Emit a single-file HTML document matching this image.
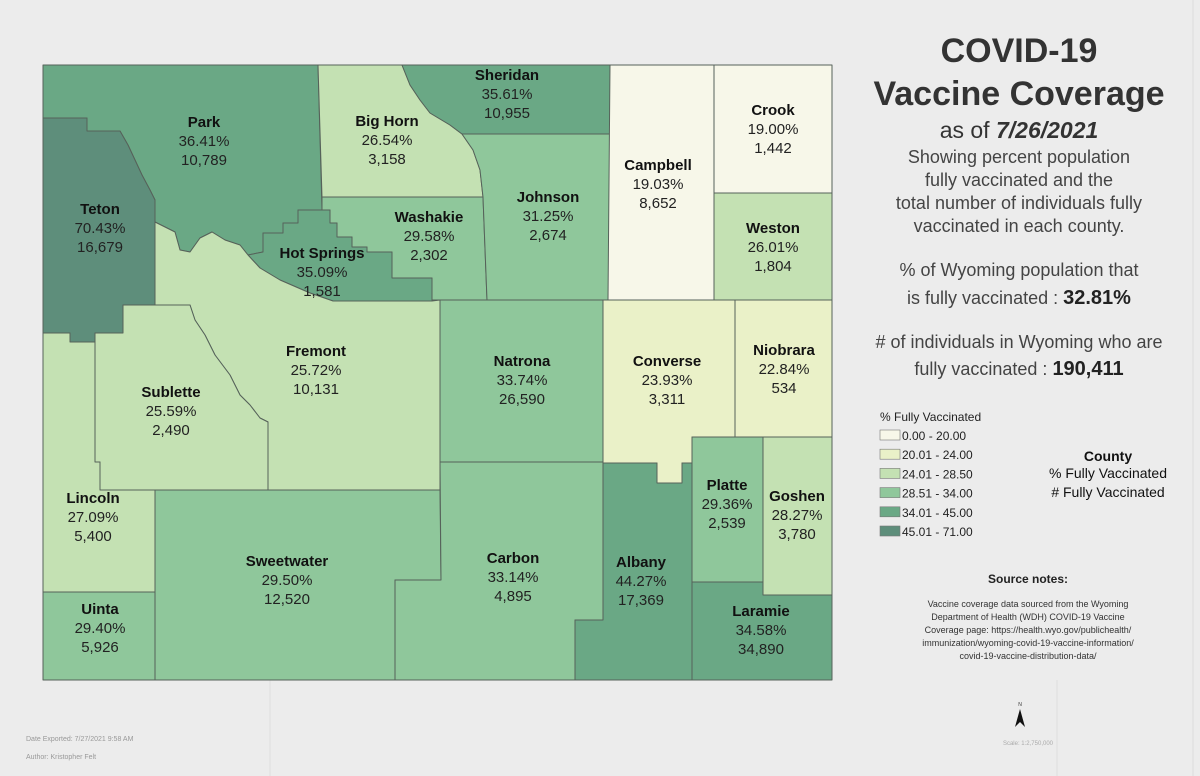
<!DOCTYPE html>
<html><head><meta charset="utf-8"><style>
html,body{margin:0;padding:0;background:#ececec;}
svg{display:block;font-family:"Liberation Sans",sans-serif;}
.nm{font-weight:bold;font-size:15px;fill:#111;}
.vl{font-size:15px;fill:#222;}
</style></head><body>
<svg id="map" width="1200" height="776" viewBox="0 0 1200 776">
<rect x="0" y="0" width="1200" height="776" fill="#ececec"/>
<line x1="1193" y1="0" x2="1193" y2="776" stroke="#dcdcdc"/>
<line x1="270" y1="680" x2="270" y2="776" stroke="#dedede"/>
<line x1="1057" y1="680" x2="1057" y2="776" stroke="#dedede"/>
<g id="counties"></g>
<g id="labels"></g>
<g text-anchor="middle" fill="#333">
<text x="1019" y="62" font-size="34" font-weight="bold">COVID-19</text>
<text x="1019" y="105" font-size="34" font-weight="bold">Vaccine Coverage</text>
<text x="1019" y="138" font-size="23">as of <tspan font-weight="bold" font-style="italic">7/26/2021</tspan></text>
<g font-size="18" fill="#444">
<text x="1019" y="163">Showing percent population</text>
<text x="1019" y="186">fully vaccinated and the</text>
<text x="1019" y="209">total number of individuals fully</text>
<text x="1019" y="232">vaccinated in each county.</text>
<text x="1019" y="276">% of Wyoming population that</text>
<text x="1019" y="304">is fully vaccinated : <tspan font-weight="bold" font-size="20" fill="#222">32.81%</tspan></text>
<text x="1019" y="348"># of individuals in Wyoming who are</text>
<text x="1019" y="375">fully vaccinated : <tspan font-weight="bold" font-size="20" fill="#222">190,411</tspan></text>
</g>
</g>
<g id="legend">
<text x="880" y="421" font-size="12" fill="#222">% Fully Vaccinated</text>
</g>
<g text-anchor="middle" fill="#111">
<text x="1108" y="461" font-size="14" font-weight="bold">County</text>
<text x="1108" y="478" font-size="14">% Fully Vaccinated</text>
<text x="1108" y="497" font-size="14"># Fully Vaccinated</text>
</g>
<g text-anchor="middle" fill="#333">
<text x="1028" y="583" font-size="12" font-weight="bold" fill="#222">Source notes:</text>
<text x="1028" y="607" font-size="9">Vaccine coverage data sourced from the Wyoming</text>
<text x="1028" y="620" font-size="9">Department of Health (WDH) COVID-19 Vaccine</text>
<text x="1028" y="633" font-size="9">Coverage page: https://health.wyo.gov/publichealth/</text>
<text x="1028" y="646" font-size="9">immunization/wyoming-covid-19-vaccine-information/</text>
<text x="1028" y="659" font-size="9">covid-19-vaccine-distribution-data/</text>
</g>
<text x="26" y="741" font-size="7" fill="#999">Date Exported: 7/27/2021 9:58 AM</text>
<text x="26" y="759" font-size="7" fill="#999">Author: Kristopher Felt</text>
<text x="1053" y="745" font-size="6" fill="#aaa" text-anchor="end">Scale: 1:2,750,000</text>
<g>
<text x="1020" y="706" font-size="5" text-anchor="middle" fill="#333">N</text>
<polygon points="1020,709 1025,727 1020,722 1015,727" fill="#111"/>
</g>
</svg>
<script>
const countyNames=["Park","Teton","Big Horn","Sheridan","Washakie","Hot Springs","Johnson","Campbell","Crook","Weston","Fremont","Sublette","Lincoln","Uinta","Sweetwater","Natrona","Converse","Niobrara","Carbon","Albany","Platte","Goshen","Laramie"];
const pctValues=[36.41,70.43,26.54,35.61,29.58,35.09,31.25,19.03,19.00,26.01,25.72,25.59,27.09,29.40,29.50,33.74,23.93,22.84,33.14,44.27,29.36,28.27,34.58];
const countValues=[10789,16679,3158,10955,2302,1581,2674,8652,1442,1804,10131,2490,5400,5926,12520,26590,3311,534,4895,17369,2539,3780,34890];
const legendLabels=["0.00 - 20.00","20.01 - 24.00","24.01 - 28.50","28.51 - 34.00","34.01 - 45.00","45.01 - 71.00"];
const classBreaks=[20,24,28.5,34,45,71];
const classColors=["#f7f7e9","#eaf1c8","#c4e1b3","#8fc79b","#6aa885","#5e8e7b"];
const shapes={
"Park":"43,65 318,65 322,210 298,210 298,223 283,223 283,233 263,233 263,252 248,255 240,245 225,240 212,232 200,238 190,252 180,250 175,232 155,222 155,200 150,190 142,175 135,160 128,145 120,131 87,131 87,118 43,118",
"Teton":"43,118 87,118 87,131 120,131 128,145 135,160 142,175 150,190 155,200 155,305 123,305 123,333 95,333 95,342 70,342 70,333 43,333",
"Big Horn":"318,65 402,65 410,85 420,100 430,113 450,125 462,134 473,150 480,170 483,197 322,197",
"Sheridan":"402,65 610,65 610,134 462,134 450,125 430,113 420,100 410,85",
"Washakie":"322,197 483,197 487,300 432,300 432,278 392,278 392,252 367,252 367,247 352,247 352,237 337,237 337,223 330,223 330,210 322,210",
"Hot Springs":"248,255 263,252 263,233 283,233 283,223 298,223 298,210 330,210 330,223 337,223 337,237 352,237 352,247 367,247 367,252 392,252 392,278 432,278 432,301 333,301 310,293 280,280 260,268",
"Johnson":"462,134 610,134 610,300 487,300 483,197 480,170 473,150",
"Campbell":"610,65 714,65 714,300 608,300",
"Crook":"714,65 832,65 832,193 714,193",
"Weston":"714,193 832,193 832,300 714,300",
"Fremont":"155,222 175,232 180,250 190,252 200,238 212,232 225,240 240,245 248,255 260,268 280,280 310,293 333,301 432,301 440,300 440,490 268,490 268,422 260,418 250,405 240,395 230,375 215,355 205,335 195,320 190,305 155,305",
"Sublette":"155,305 190,305 195,320 205,335 215,355 230,375 240,395 250,405 260,418 268,422 268,490 100,490 100,462 95,462 95,342 95,333 123,333 123,305",
"Lincoln":"43,333 70,333 70,342 95,342 95,462 100,462 100,490 155,490 155,592 43,592",
"Uinta":"43,592 155,592 155,680 43,680",
"Sweetwater":"155,490 440,490 441,580 395,580 395,680 155,680",
"Natrona":"440,300 603,300 603,462 440,462",
"Converse":"603,300 735,300 735,437 692,437 692,463 682,463 682,483 657,483 657,463 603,463",
"Niobrara":"735,300 832,300 832,437 735,437",
"Carbon":"440,462 603,462 603,620 575,620 575,680 395,680 395,580 441,580",
"Albany":"603,463 657,463 657,483 682,483 682,463 692,463 692,680 575,680 575,620 603,620",
"Platte":"692,437 763,437 763,582 692,582",
"Goshen":"763,437 832,437 832,595 763,595",
"Laramie":"692,582 763,582 763,595 832,595 832,680 692,680"};
const anchors={"Park":[204,127],"Teton":[100,214],"Big Horn":[387,126],"Sheridan":[507,80],"Washakie":[429,222],"Hot Springs":[322,258],"Johnson":[548,202],"Campbell":[658,170],"Crook":[773,115],"Weston":[773,233],"Fremont":[316,356],"Sublette":[171,397],"Lincoln":[93,503],"Uinta":[100,614],"Sweetwater":[287,566],"Natrona":[522,366],"Converse":[667,366],"Niobrara":[784,355],"Carbon":[513,563],"Albany":[641,567],"Platte":[727,490],"Goshen":[797,501],"Laramie":[761,616]};
const NS="http://www.w3.org/2000/svg";
function colorFor(v){for(let i=0;i<classBreaks.length;i++){if(v<=classBreaks[i])return classColors[i];}return classColors[classColors.length-1];}
function fmt(n){return n.toLocaleString("en-US");}
function slug(s){return s.toLowerCase().replace(/\s+/g,"-");}
const gC=document.getElementById("counties"),gL=document.getElementById("labels");
countyNames.forEach((name,i)=>{
  const p=document.createElementNS(NS,"polygon");
  p.setAttribute("points",shapes[name]);
  p.setAttribute("fill",colorFor(pctValues[i]));
  p.setAttribute("stroke","#56625a");p.setAttribute("stroke-width","1");p.setAttribute("stroke-linejoin","round");
  
  
  gC.appendChild(p);
  const [x,y]=anchors[name];
  const t=document.createElementNS(NS,"text");
  t.setAttribute("text-anchor","middle");
  
  
  const lines=[[name,"nm",0],[pctValues[i].toFixed(2)+"%","vl",19],[fmt(countValues[i]),"vl",38]];
  lines.forEach(([s,c,dy])=>{const ts=document.createElementNS(NS,"tspan");ts.setAttribute("x",x);ts.setAttribute("y",y+dy);ts.setAttribute("class",c);ts.textContent=s;t.appendChild(ts);});
  gL.appendChild(t);
});
const gLeg=document.getElementById("legend");
legendLabels.forEach((lab,i)=>{
  const y=430+i*19.2;
  const r=document.createElementNS(NS,"rect");
  r.setAttribute("x",880);r.setAttribute("y",y);r.setAttribute("width",20);r.setAttribute("height",10);
  r.setAttribute("fill",classColors[i]);r.setAttribute("stroke","#777");r.setAttribute("stroke-width","0.6");
  
  
  gLeg.appendChild(r);
  const t=document.createElementNS(NS,"text");
  t.setAttribute("x",902);t.setAttribute("y",y+10);t.setAttribute("font-size","12");t.setAttribute("fill","#222");
  t.textContent=lab;
  
  
  gLeg.appendChild(t);
});
</script>
</body></html>
